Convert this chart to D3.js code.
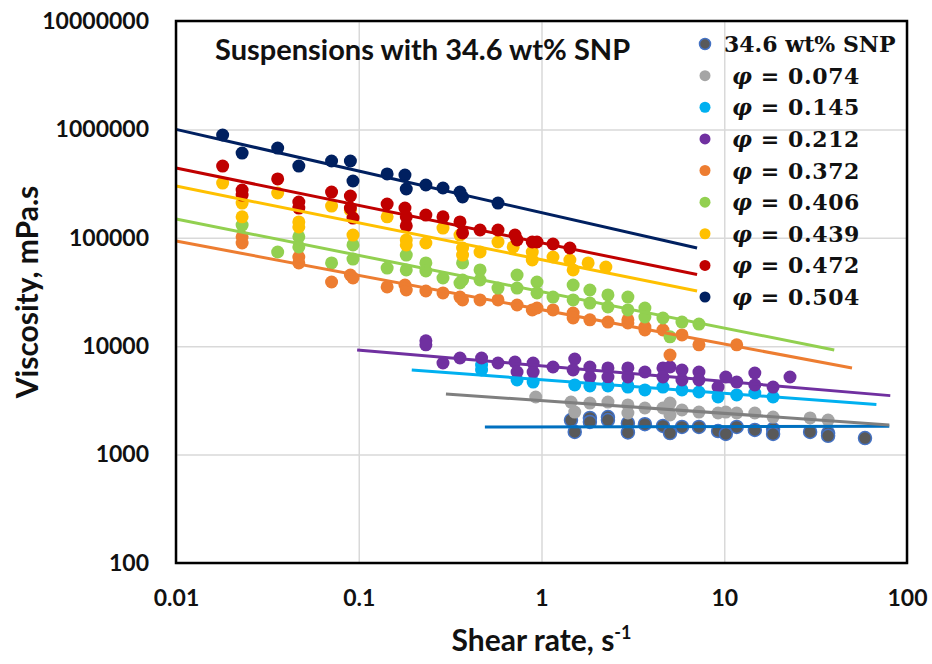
<!DOCTYPE html>
<html>
<head>
<meta charset="utf-8">
<script src="https://cdn.jsdelivr.net/npm/d3@7"></script>
<style>
  body { margin: 0; background: #fff; }
  svg { display: block; }
</style>
</head>
<body>
<div id="chart"></div>
<script>
// shear rate (1/s) vs viscosity (mPa.s)
const snp = [[1.45,2080],[1.52,1620],[1.84,2180],[1.84,2000],[2.31,2220],[2.31,2080],[2.97,1950],[2.97,1600],
  [3.68,1910],[4.62,1840],[5.05,1580],[5.87,1800],[7.27,1800],[9.25,1650],[10.2,1550],[11.7,1800],[14.7,1690],
  [18.5,1720],[18.5,1550],[29.5,1620],[37.0,1580],[37.0,1490],[58.9,1420]];
const phi074 = [[0.93,3400],[1.45,3050],[1.52,2470],[1.84,2990],[2.31,3050],[2.97,2870],[2.97,2420],[3.68,2690],
  [4.62,2690],[5.05,2990],[5.05,2320],[5.87,2580],[7.27,2470],[9.25,2420],[10.2,2470],[11.7,2420],[14.7,2420],
  [18.5,2220],[29.5,2180],[37.0,2080]];
const phi145 = [[0.47,6710],[0.47,6030],[0.735,4880],[0.9,4670],[1.52,4390],[1.84,4300],[2.31,4300],[2.97,4300],
  [2.97,4200],[3.68,3950],[4.62,4200],[5.87,3950],[7.27,3780],[9.25,3400],[11.7,3550],[14.7,3700],[18.5,3400]];
const phi212 = [[0.233,11200],[0.233,10300],[0.289,7000],[0.358,7780],[0.47,7780],[0.578,7000],[0.716,7150],
  [0.735,5780],[0.9,7000],[0.9,5780],[1.156,6430],[1.52,7620],[1.49,6030],[1.84,6430],[1.84,5200],[2.31,6300],
  [2.31,5200],[2.97,6300],[2.97,5200],[3.68,5780],[4.62,6300],[4.62,5200],[5.05,6430],[5.87,6030],[5.87,4880],
  [7.27,5780],[7.27,4880],[9.25,4200],[10.2,5200],[11.7,4670],[14.7,5660],[14.7,4390],[18.5,4200],[22.9,5200]];
const phi372 = [[0.023,102000],[0.023,89500],[0.047,66500],[0.047,58600],[0.071,39100],[0.09,45400],[0.093,42600],
  [0.143,35200],[0.179,36700],[0.182,33000],[0.233,32300],[0.289,31000],[0.358,28400],[0.37,26700],[0.461,26700],
  [0.578,26700],[0.735,24000],[0.89,21600],[0.945,22500],[1.156,21600],[1.49,20200],[1.49,18200],[1.84,17500],
  [2.31,16700],[2.97,16400],[2.97,17500],[3.68,15000],[3.68,14100],[4.62,14100],[5.87,12700],[7.27,10300],
  [11.7,10300],[5.05,8300]];
const phi406 = [[0.023,131000],[0.036,74000],[0.047,102000],[0.047,82300],[0.071,58600],[0.093,85900],[0.093,63700],
  [0.143,52600],[0.182,69300],[0.182,50500],[0.233,58600],[0.233,49400],[0.289,42600],[0.358,38300],[0.37,40800],
  [0.37,58600],[0.461,50500],[0.461,40800],[0.578,34400],[0.735,45400],[0.735,34400],[0.945,39100],[0.945,31000],
  [1.156,28400],[1.49,36700],[1.49,26700],[1.84,33000],[1.84,25000],[2.31,29700],[2.31,23000],[2.97,28400],
  [2.97,21600],[3.68,22500],[3.68,18600],[4.62,18200],[5.87,16700],[7.27,16000],[5.05,12200]];
const phi439 = [[0.018,320000],[0.023,209000],[0.023,156000],[0.036,259000],[0.047,140000],[0.047,126000],
  [0.071,196000],[0.09,180000],[0.093,106000],[0.143,156000],[0.182,95500],[0.182,85900],[0.233,89500],
  [0.289,123000],[0.358,106000],[0.37,80500],[0.37,69300],[0.461,74000],[0.578,91500],[0.7,82300],[0.89,74000],
  [0.89,62400],[1.156,66500],[1.43,62400],[1.49,50500],[1.8,58600],[2.25,53800]];
const phi472 = [[0.018,459000],[0.023,276000],[0.023,248000],[0.036,349000],[0.047,214000],[0.047,188000],
  [0.071,264000],[0.09,243000],[0.09,188000],[0.093,152000],[0.143,205000],[0.179,188000],[0.182,156000],
  [0.182,129000],[0.233,162000],[0.289,156000],[0.358,140000],[0.37,111000],[0.461,118000],[0.578,118000],
  [0.716,106000],[0.735,95500],[0.89,91500],[0.945,91500],[1.156,87700],[1.43,80500]];
const phi504 = [[0.018,888000],[0.023,605000],[0.036,673000],[0.047,459000],[0.071,511000],[0.09,511000],
  [0.093,334000],[0.143,388000],[0.179,379000],[0.182,282000],[0.233,307000],[0.289,288000],[0.358,264000],
  [0.37,238000],[0.578,209000]];

// power-law trendlines, start and end points
const trends = [
  [[0.49,1800],[80,1830]],
  [[0.30,3630],[80,1880]],
  [[0.195,6030],[68,2900]],
  [[0.098,9230],[81,3500]],
  [[0.01,93400],[50,6290]],
  [[0.01,149000],[40,9230]],
  [[0.01,300000],[7.1,32300]],
  [[0.01,440000],[7.1,45800]],
  [[0.01,1000000],[7.1,80500]]
];

const seriesData = [snp, phi074, phi145, phi212, phi372, phi406, phi439, phi472, phi504];
const seriesLabels = ["34.6 wt% SNP", "0.074", "0.145", "0.212", "0.372", "0.406", "0.439", "0.472", "0.504"];
const fillColors = ["#595959", "#A5A5A5", "#00B0F0", "#7030A0", "#ED7D31", "#92D050", "#FFC000", "#C00000", "#002060"];
const lineColors = ["#0070C0", "#7F7F7F", "#00B0F0", "#7030A0", "#ED7D31", "#92D050", "#FFC000", "#C00000", "#002060"];

const xTicks = [0.01, 0.1, 1, 10, 100];
const yTicks = [100, 1000, 10000, 100000, 1000000, 10000000];

const width = 932, height = 664;
const margin = { left: 176, right: 25, top: 21, bottom: 101 };

const x = d3.scaleLog().domain([0.01, 100]).range([margin.left, width - margin.right]);
const y = d3.scaleLog().domain([100, 1e7]).range([height - margin.bottom, margin.top]);

const svg = d3.select("#chart").append("svg")
  .attr("width", width)
  .attr("height", height);

const font = "Lato, 'Open Sans', sans-serif";

// gridlines
svg.append("g")
  .attr("transform", `translate(0,${y(100)})`)
  .call(d3.axisBottom(x).tickValues(xTicks).tickSize(-(y(100) - y(1e7))).tickFormat(""))
  .call(g => g.select(".domain").remove())
  .call(g => g.selectAll("line").attr("stroke", "#D9D9D9").attr("stroke-width", 1.5));

svg.append("g")
  .attr("transform", `translate(${x(0.01)},0)`)
  .call(d3.axisLeft(y).tickValues(yTicks).tickSize(-(x(100) - x(0.01))).tickFormat(""))
  .call(g => g.select(".domain").remove())
  .call(g => g.selectAll("line").attr("stroke", "#D9D9D9").attr("stroke-width", 1.5));

// tick labels
const xAxis = svg.append("g")
  .attr("transform", `translate(0,${y(100)})`)
  .call(d3.axisBottom(x).tickValues(xTicks).tickSize(0).tickPadding(27).tickFormat(d => String(d)));
xAxis.select(".domain").remove();
xAxis.selectAll("text")
  .attr("font-family", font)
  .attr("font-weight", "bold")
  .attr("font-size", 23)
  .attr("fill", "#111");

const yAxis = svg.append("g")
  .attr("transform", `translate(${x(0.01)},0)`)
  .call(d3.axisLeft(y).tickValues(yTicks).tickSize(0).tickPadding(27).tickFormat(d3.format("d")));
yAxis.select(".domain").remove();
yAxis.selectAll("text")
  .attr("font-family", font)
  .attr("font-weight", "bold")
  .attr("font-size", 23)
  .attr("fill", "#111");

// markers
seriesData.forEach((data, i) => {
  svg.append("g")
    .selectAll("circle")
    .data(data)
    .join("circle")
    .attr("cx", d => x(d[0]))
    .attr("cy", d => y(d[1]))
    .attr("r", 6.5)
    .attr("fill", fillColors[i])
    .attr("stroke", i === 0 ? "#4472C4" : "none")
    .attr("stroke-width", 1.5);
});

// trendlines
const line = d3.line().x(d => x(d[0])).y(d => y(d[1]));
svg.append("g")
  .selectAll("path")
  .data(trends)
  .join("path")
  .attr("d", line)
  .attr("fill", "none")
  .attr("stroke", (d, i) => lineColors[i])
  .attr("stroke-width", 3);

// plot border
svg.append("rect")
  .attr("x", x(0.01))
  .attr("y", y(1e7))
  .attr("width", x(100) - x(0.01))
  .attr("height", y(100) - y(1e7))
  .attr("fill", "none")
  .attr("stroke", "#000")
  .attr("stroke-width", 2.5);

// title
svg.append("text")
  .attr("x", 215)
  .attr("y", 60)
  .attr("font-family", font)
  .attr("font-weight", "bold")
  .attr("font-size", 29)
  .attr("fill", "#111")
  .text("Suspensions with 34.6 wt% SNP");

// axis titles
svg.append("text")
  .attr("transform", `translate(38,${(y(100) + y(1e7)) / 2}) rotate(-90)`)
  .attr("text-anchor", "middle")
  .attr("font-family", font)
  .attr("font-weight", "bold")
  .attr("font-size", 30)
  .attr("fill", "#111")
  .text("Viscosity, mPa.s");

const xTitle = svg.append("text")
  .attr("x", (x(0.01) + x(100)) / 2)
  .attr("y", 651)
  .attr("text-anchor", "middle")
  .attr("font-family", font)
  .attr("font-weight", "bold")
  .attr("font-size", 30)
  .attr("fill", "#111");
xTitle.append("tspan").text("Shear rate, s");
xTitle.append("tspan").attr("font-size", 18).attr("dy", -12).text("-1");

// legend
const legend = svg.append("g");
const rowY = d3.scaleLinear().domain([0, 8]).range([44, 297]);
seriesLabels.forEach((lab, i) => {
  const yy = rowY(i);
  legend.append("circle")
    .attr("cx", 705)
    .attr("cy", yy)
    .attr("r", 5.5)
    .attr("fill", fillColors[i])
    .attr("stroke", i === 0 ? "#4472C4" : "none")
    .attr("stroke-width", 1.5);
  const t = legend.append("text")
    .attr("x", i === 0 ? 724 : 732)
    .attr("y", yy + 8)
    .attr("font-family", "'DejaVu Serif', 'Liberation Serif', serif")
    .attr("font-weight", "bold")
    .attr("font-size", 22)
    .attr("letter-spacing", i === 0 ? 0 : 0.6)
    .attr("fill", "#111");
  if (i === 0) {
    t.text(lab);
  } else {
    t.append("tspan").attr("font-style", "italic").text("φ");
    t.append("tspan").text(" = " + lab);
  }
});
</script>
</body>
</html>
